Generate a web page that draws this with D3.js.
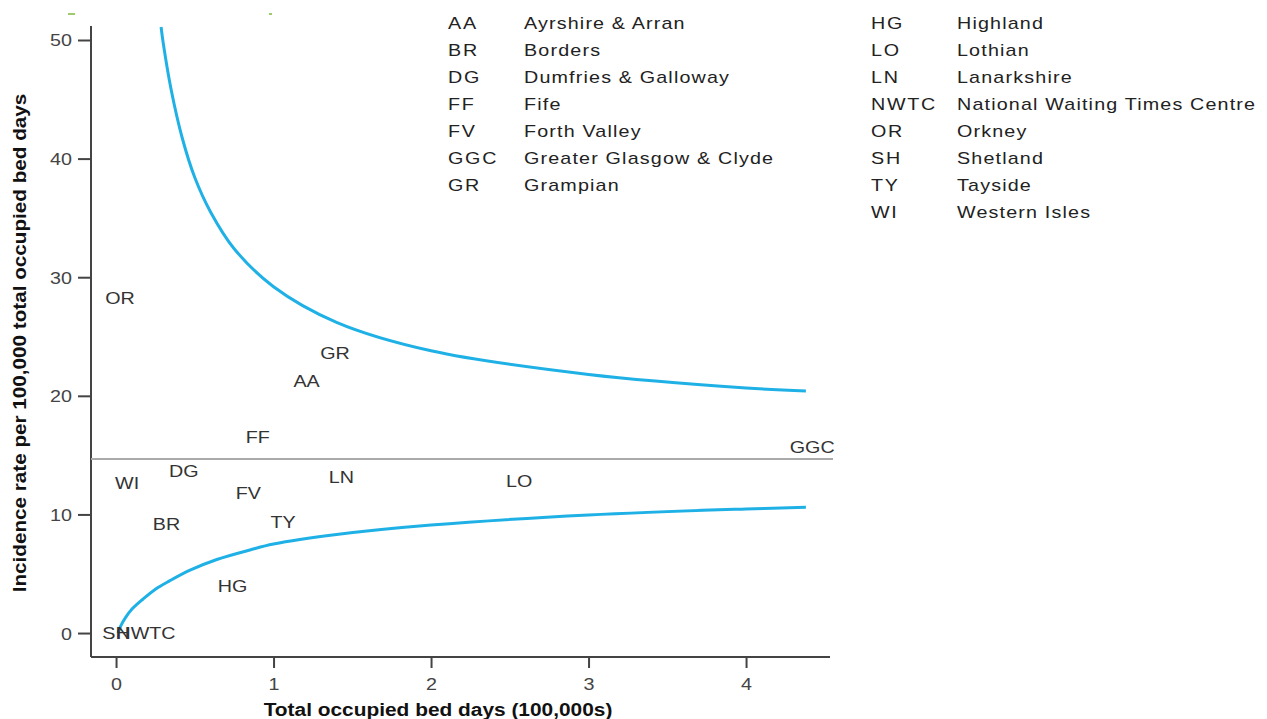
<!DOCTYPE html>
<html>
<head>
<meta charset="utf-8">
<script src="https://cdn.jsdelivr.net/npm/d3@7"></script>
<style>
  body { margin: 0; background: #fff; }
  text { font-family: "Liberation Sans", Arial, sans-serif; }
</style>
</head>
<body>
<div id="chart"></div>
<script>
// board codes, bed days (100,000s) and incidence rate
var codes = ["AA","BR","DG","FF","FV","GGC","GR","HG","LO","LN","NWTC","OR","SH","TY","WI"]
var bedDays = [1.21, 0.32, 0.43, 0.90, 0.84, 4.42, 1.39, 0.74, 2.56, 1.43, 0.19, 0.025, 0.0, 1.06, 0.07]
var rates = [21.3, 9.2, 13.7, 16.5, 11.8, 15.7, 23.6, 4.0, 12.8, 13.2, 0.0, 28.3, 0.0, 9.4, 12.7]

var meanRate = 14.67

// funnel limits (x in 100,000s, rate)
var upperX = [0.286, 0.30, 0.35, 0.419, 0.5, 0.6, 0.75, 1.0, 1.4, 2.0, 3.0, 4.0, 4.38]
var upperY = [51.1, 49.7, 45.8, 41.8, 38.4, 35.5, 32.4, 29.2, 26.2, 23.8, 21.8, 20.66, 20.4]
var lowerX = [0.013, 0.03, 0.06, 0.10, 0.17, 0.25, 0.34, 0.47, 0.64, 0.85, 1.0, 1.4, 2.0, 3.0, 4.0, 4.38]
var lowerY = [0.0, 0.6, 1.3, 2.0, 2.85, 3.7, 4.4, 5.3, 6.2, 7.0, 7.5, 8.3, 9.1, 9.95, 10.46, 10.6]

var xTicks = [0, 1, 2, 3, 4]
var yTicks = [0, 10, 20, 30, 40, 50]

var legendLeft = ["AA","BR","DG","FF","FV","GGC","GR"]
var legendLeftNames = ["Ayrshire & Arran","Borders","Dumfries & Galloway","Fife","Forth Valley","Greater Glasgow & Clyde","Grampian"]
var legendRight = ["HG","LO","LN","NWTC","OR","SH","TY","WI"]
var legendRightNames = ["Highland","Lothian","Lanarkshire","National Waiting Times Centre","Orkney","Shetland","Tayside","Western Isles"]

var w = 1267, h = 719
var sx = 1.16  // picture is a bit stretched sideways

var svg = d3.select("#chart").append("svg")
	.attr("width", w)
	.attr("height", h)

var x = d3.scaleLinear().domain([-0.159, 4.533]).range([91, 830])
var y = d3.scaleLinear().domain([-2.02, 51.18]).range([657, 26])

function put(sel, px, py){
	sel.attr("transform", "translate(" + px + "," + py + ") scale(" + sx + ",1)")
}

// little green marks at the top
svg.append("line").attr("x1",68).attr("x2",75).attr("y1",14).attr("y2",14).style("stroke","#7cb83a").style("stroke-width",1.5)
svg.append("line").attr("x1",269).attr("x2",272).attr("y1",14).attr("y2",14).style("stroke","#7cb83a").style("stroke-width",1.5)

// axes
var yAxis = d3.axisLeft(y).tickValues(yTicks).tickSize(13).tickPadding(5).tickFormat(d3.format("d"))
var gy = svg.append("g").attr("transform","translate(91,0)").call(yAxis)
var xAxis = d3.axisBottom(x).tickValues(xTicks).tickSize(11).tickPadding(8).tickFormat(d3.format("d"))
var gx = svg.append("g").attr("transform","translate(0,657)").call(xAxis)

gy.select(".domain").attr("d", "M0,26V657").style("stroke","#444").style("stroke-width",2)
gx.select(".domain").attr("d", "M91,0H830").style("stroke","#444").style("stroke-width",2)
svg.selectAll(".tick line").style("stroke","#444").style("stroke-width",2)
svg.selectAll(".tick text").style("font-size","17px").style("fill","#444")
gy.selectAll(".tick text").each(function(){
	var t = d3.select(this)
	t.attr("x", null).attr("dy", null)
	put(t, -19, 6)
})
gx.selectAll(".tick text").each(function(){
	var t = d3.select(this)
	t.attr("y", null).attr("dy", null)
	put(t, 0, 33)
})

// axis titles
svg.append("text")
	.text("Total occupied bed days (100,000s)")
	.attr("text-anchor","middle")
	.style("font-weight","bold")
	.style("font-size","18px")
	.style("fill","#111")
	.call(put, 438, 716)

svg.append("text")
	.text("Incidence rate per 100,000 total occupied bed days")
	.attr("text-anchor","middle")
	.style("font-weight","bold")
	.style("font-size","18px")
	.style("fill","#111")
	.attr("transform","translate(26,343) rotate(-90) scale(1.15,1)")

// mean line
svg.append("line")
	.attr("x1", 91).attr("x2", 833)
	.attr("y1", y(meanRate)).attr("y2", y(meanRate))
	.style("stroke","#aaa")
	.style("stroke-width",2)

// funnel limits
var line = d3.line().curve(d3.curveCatmullRom.alpha(0.5))
svg.append("path")
	.attr("d", line(upperX.map(function(v,i){ return [x(v), y(upperY[i])] })))
	.style("fill","none").style("stroke","#1fb1e6").style("stroke-width",3)
svg.append("path")
	.attr("d", line(lowerX.map(function(v,i){ return [x(v), y(lowerY[i])] })))
	.style("fill","none").style("stroke","#1fb1e6").style("stroke-width",3)

// board labels
codes.forEach(function(c,i){
	svg.append("text")
		.text(c)
		.attr("text-anchor","middle")
		.attr("dy","0.36em")
		.style("font-size","17px")
		.style("fill","#333")
		.call(put, x(bedDays[i]), y(rates[i]))
})

// legend
function legend(cs, names, x0, x1){
	cs.forEach(function(c,i){
		svg.append("text").text(c)
			.style("font-size","17px").style("fill","#222").style("letter-spacing","1.5px")
			.call(put, x0, 29 + i*27)
		svg.append("text").text(names[i])
			.style("font-size","17px").style("fill","#222").style("letter-spacing","1px")
			.call(put, x1, 29 + i*27)
	})
}
legend(legendLeft, legendLeftNames, 448, 524)
legend(legendRight, legendRightNames, 871, 957)
</script>
</body>
</html>
